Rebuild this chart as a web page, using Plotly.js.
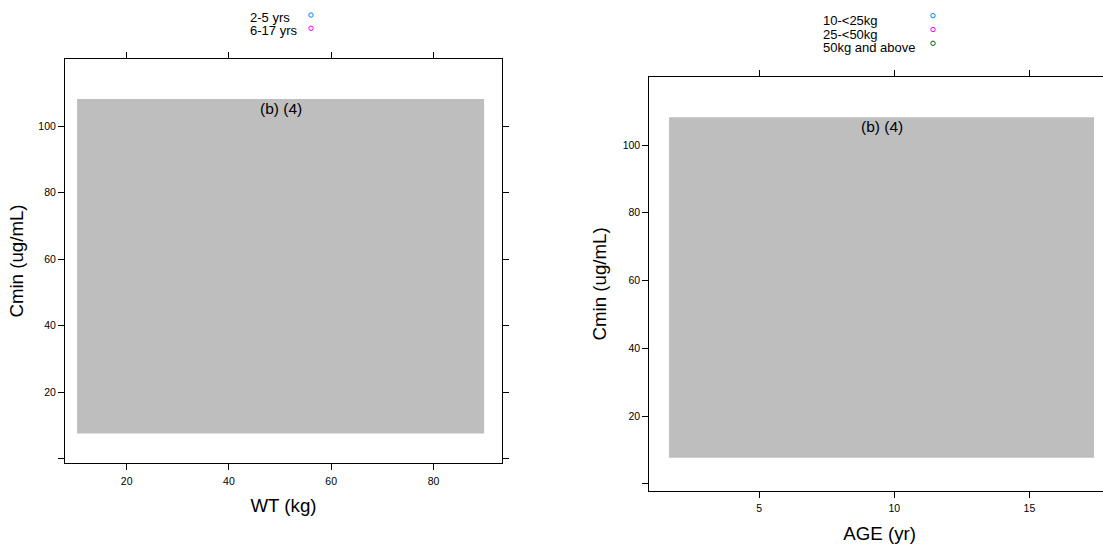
<!DOCTYPE html>
<html>
<head>
<meta charset="utf-8">
<script src="https://cdn.plot.ly/plotly-3.0.1.min.js"></script>
<style>
html,body{margin:0;padding:0;overflow:hidden;background:#fff;}
#chart{width:1120px;height:546px;}
</style>
</head>
<body>
<div id="chart"></div>
<script>
// ---- data ----
// Left panel: Cmin vs WT, coloured by age group (data redacted: grey block)
const ageGroups = ['2-5 yrs', '6-17 yrs'];
const ageGroupColors = ['#0080ff', '#ff00ff'];
const wtRedactX = [10.3, 89.9];     // kg
const wtRedactY = [7.5, 108.1];     // ug/mL
const wtAxisRange = [7.94, 93.4];
const cminAxisRangeL = [-1.35, 120.15];
const wtTicks = [20, 40, 60, 80];

// Right panel: Cmin vs AGE, coloured by weight group
const wtGroups = ['10-<25kg', '25-<50kg', '50kg and above'];
const wtGroupColors = ['#0080ff', '#ff00ff', '#006400'];
const ageRedactX = [1.67, 17.39];   // yr
const ageRedactY = [7.7, 108.2];    // ug/mL
const ageAxisRange = [0.94, 17.98];
const cminAxisRangeR = [-2.05, 120.1];
const ageTicks = [5, 10, 15];

const cminTicks = [0, 20, 40, 60, 80, 100];
const cminTickText = ['', '20', '40', '60', '80', '100'];
const redactLabel = '(b) (4)';

// ---- build ----
const W = 1120, H = 546;
const FONT = 'Liberation Sans, Arial, Helvetica, sans-serif';
const grey = '#bebebe';
const TITLE_SIZE = 18.7;

function rectTrace(xs, ys, xa, ya) {
  return {
    type: 'scatter', mode: 'lines', xaxis: xa, yaxis: ya,
    x: [xs[0], xs[1], xs[1], xs[0], xs[0]],
    y: [ys[0], ys[0], ys[1], ys[1], ys[0]],
    fill: 'toself', fillcolor: grey, line: {width: 0, color: grey},
    hoverinfo: 'skip', showlegend: false
  };
}

const traces = [
  rectTrace(wtRedactX, wtRedactY, 'x', 'y'),
  rectTrace(ageRedactX, ageRedactY, 'x2', 'y2')
];

function axisBase() {
  return {
    showgrid: false, zeroline: false, showline: true, linecolor: '#000', linewidth: 1,
    mirror: 'ticks', ticks: 'outside', ticklen: 6, tickcolor: '#000', tickwidth: 1,
    tickfont: {family: FONT, size: 10.5, color: '#000'}, fixedrange: true
  };
}

const px = v => v / W;
const py = v => 1 - v / H;
const titleFont = {family: FONT, size: TITLE_SIZE, color: '#000'};

const layout = {
  width: W, height: H,
  margin: {l: 0, r: 0, t: 0, b: 0},
  paper_bgcolor: '#fff', plot_bgcolor: '#fff',
  showlegend: false,
  font: {family: FONT, color: '#000'},
  xaxis: Object.assign(axisBase(), {
    domain: [px(65), px(502)], range: wtAxisRange, anchor: 'y',
    tickvals: wtTicks, ticktext: wtTicks.map(String), ticklabelstandoff: 2,
    title: {text: 'WT (kg)', font: titleFont, standoff: 13}
  }),
  yaxis: Object.assign(axisBase(), {
    domain: [py(463), py(59)], range: cminAxisRangeL, anchor: 'x',
    tickvals: cminTicks, ticktext: cminTickText,
    title: {text: 'Cmin (ug/mL)', font: titleFont, standoff: 9}
  }),
  xaxis2: Object.assign(axisBase(), {
    domain: [px(649.3), px(1110)], range: ageAxisRange, anchor: 'y2',
    tickvals: ageTicks, ticktext: ageTicks.map(String), ticklabelstandoff: 2,
    title: {text: 'AGE (yr)', font: titleFont, standoff: 13}
  }),
  yaxis2: Object.assign(axisBase(), {
    domain: [py(490.7), py(77)], range: cminAxisRangeR, anchor: 'x2',
    tickvals: cminTicks, ticktext: cminTickText,
    title: {text: 'Cmin (ug/mL)', font: titleFont, standoff: 11}
  }),
  annotations: [],
  shapes: []
};

// redaction labels
layout.annotations.push({
  xref: 'x', yref: 'y', x: (wtRedactX[0] + wtRedactX[1]) / 2, y: wtRedactY[1],
  yanchor: 'top', xanchor: 'center', showarrow: false, text: redactLabel, yshift: 1,
  font: {family: FONT, size: 15.5, color: '#000'}
});
layout.annotations.push({
  xref: 'x2', yref: 'y2', x: (ageRedactX[0] + ageRedactX[1]) / 2, y: ageRedactY[1],
  yanchor: 'top', xanchor: 'center', showarrow: false, text: redactLabel, yshift: 1,
  font: {family: FONT, size: 15.5, color: '#000'}
});

// legends (text then open circle key)
function addLegend(labels, colors, textX, textY0, textDy, keyX, keyY0, keyDy) {
  labels.forEach((lab, i) => {
    const ty = textY0 + i * textDy;
    layout.annotations.push({
      xref: 'paper', yref: 'paper', x: px(textX), y: py(ty),
      xanchor: 'left', yanchor: 'middle', showarrow: false, text: lab,
      font: {family: FONT, size: 13, color: '#000'}
    });
    const ky = keyY0 + i * keyDy;
    const r = 2.2;
    layout.shapes.push({
      type: 'circle', xref: 'paper', yref: 'paper',
      x0: px(keyX - r), x1: px(keyX + r), y0: py(ky + r), y1: py(ky - r),
      line: {color: colors[i], width: 1}, fillcolor: 'rgba(0,0,0,0)'
    });
  });
}
addLegend(ageGroups, ageGroupColors, 248, 17.5, 12.5, 311, 15, 13.3);
addLegend(wtGroups, wtGroupColors, 821, 20.5, 13.6, 933, 15.7, 13.8);

Plotly.newPlot('chart', traces, layout, {staticPlot: true, displayModeBar: false});
</script>
</body>
</html>
